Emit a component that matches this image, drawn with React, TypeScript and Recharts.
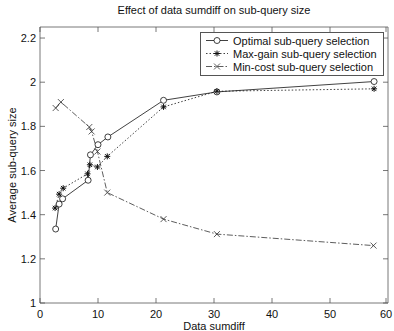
import React from 'react';
import { LineChart, Line, XAxis, YAxis, Legend, Label } from 'recharts';

const optimalX = [2.7, 3.3, 3.9, 8.3, 8.7, 10.0, 11.7, 21.3, 30.5, 57.6];
const optimalY = [1.335, 1.448, 1.472, 1.556, 1.671, 1.717, 1.752, 1.918, 1.956, 2.003];
const maxGainX = [2.6, 3.3, 4.0, 8.2, 8.6, 9.9, 11.6, 21.3, 30.5, 57.6];
const maxGainY = [1.43, 1.493, 1.52, 1.585, 1.626, 1.616, 1.664, 1.888, 1.959, 1.97];
const minCostX = [2.7, 3.6, 8.5, 8.9, 9.9, 11.6, 21.3, 30.5, 57.5];
const minCostY = [1.883, 1.91, 1.797, 1.777, 1.686, 1.5, 1.38, 1.312, 1.26];

const seriesNames = ['Optimal sub-query selection', 'Max-gain sub-query selection', 'Min-cost sub-query selection'];
const xTicks = [0, 10, 20, 30, 40, 50, 60];
const yTicks = [1, 1.2, 1.4, 1.6, 1.8, 2, 2.2];
const title = 'Effect of data sumdiff on sub-query size';
const xTitle = 'Data sumdiff';
const yTitle = 'Average sub-query size';

const zip = (xs: number[], ys: number[]) => xs.map((x, i) => ({ x, y: ys[i] }));
const optimalData = zip(optimalX, optimalY);
const maxGainData = zip(maxGainX, maxGainY);
const minCostData = zip(minCostX, minCostY);

const FONT = '"Liberation Sans", Arial, sans-serif';
const AX = '#555';
const INK = '#111';

type MarkerKind = 'circle' | 'star' | 'cross';

const Marker = ({ cx, cy, kind }: { cx: number; cy: number; kind: MarkerKind }) => {
  const s = 3;
  if (kind === 'circle') {
    return <circle cx={cx} cy={cy} r={3} fill="white" stroke={INK} strokeWidth={0.8} />;
  }
  if (kind === 'star') {
    return (
      <g stroke={INK} strokeWidth={1}>
        <line x1={cx - s} y1={cy} x2={cx + s} y2={cy} />
        <line x1={cx} y1={cy - s} x2={cx} y2={cy + s} />
        <line x1={cx - s * 0.75} y1={cy - s * 0.75} x2={cx + s * 0.75} y2={cy + s * 0.75} />
        <line x1={cx - s * 0.75} y1={cy + s * 0.75} x2={cx + s * 0.75} y2={cy - s * 0.75} />
      </g>
    );
  }
  return (
    <g stroke="#333" strokeWidth={0.8}>
      <line x1={cx - s} y1={cy - s} x2={cx + s} y2={cy + s} />
      <line x1={cx - s} y1={cy + s} x2={cx + s} y2={cy - s} />
    </g>
  );
};

const makeDot = (kind: MarkerKind) => (props: any) => (
  <Marker key={`${kind}-${props.index}`} cx={props.cx} cy={props.cy} kind={kind} />
);

const seriesStyle: Record<string, { kind: MarkerKind; dash?: string; color: string; width: number }> = {
  [seriesNames[0]]: { kind: 'circle', color: INK, width: 0.8 },
  [seriesNames[1]]: { kind: 'star', dash: '1.5 2', color: INK, width: 0.8 },
  [seriesNames[2]]: { kind: 'cross', dash: '6 2 1.5 2', color: '#333', width: 0.8 },
};

const LeftTick = (props: any) => {
  const { x, y, payload } = props;
  return (
    <g>
      <line x1={x} y1={y} x2={x + 5} y2={y} stroke={AX} strokeWidth={0.8} />
      <text x={x - 4} y={y} dy={4} textAnchor="end" fontSize={11} fontFamily={FONT} fill={INK}>
        {String(payload.value)}
      </text>
    </g>
  );
};
const RightTick = (props: any) => {
  const { x, y } = props;
  return <line x1={x} y1={y} x2={x - 5} y2={y} stroke={AX} strokeWidth={0.8} />;
};
const BottomTick = (props: any) => {
  const { x, y, payload } = props;
  return (
    <g>
      <line x1={x} y1={y} x2={x} y2={y - 5} stroke={AX} strokeWidth={0.8} />
      <text x={x} y={y} dy={15} textAnchor="middle" fontSize={11} fontFamily={FONT} fill={INK}>
        {String(payload.value)}
      </text>
    </g>
  );
};
const TopTick = (props: any) => {
  const { x, y } = props;
  return <line x1={x} y1={y} x2={x} y2={y + 5} stroke={AX} strokeWidth={0.8} />;
};

const LegendBox = (props: any) => {
  const payload = [...(props.payload || [])].sort(
    (a: any, b: any) => seriesNames.indexOf(a.value) - seriesNames.indexOf(b.value)
  );
  return (
    <div
      style={{
        border: `1px solid ${AX}`,
        background: 'white',
        width: 184,
        padding: '1px 0 2px 0',
        fontFamily: FONT,
        fontSize: 11,
        color: INK,
        boxSizing: 'border-box',
      }}
    >
      {payload.map((entry: any) => {
        const st = seriesStyle[entry.value];
        return (
          <div key={entry.value} style={{ display: 'flex', alignItems: 'center', height: 13 }}>
            <svg width={32} height={13} style={{ flex: 'none' }}>
              <line x1={5} y1={6.5} x2={27} y2={6.5} stroke={st.color} strokeWidth={st.width} strokeDasharray={st.dash} />
              <Marker cx={16} cy={6.5} kind={st.kind} />
            </svg>
            <span style={{ whiteSpace: 'nowrap' }}>{entry.value}</span>
          </div>
        );
      })}
    </div>
  );
};

export default function App() {
  return (
    <div style={{ position: 'absolute', left: 0, top: 0, width: 394, height: 331, background: 'white' }}>
      <LineChart width={394} height={331} margin={{ top: 0, right: 0, bottom: 0, left: 0 }}>
        <XAxis
          xAxisId="b"
          type="number"
          dataKey="x"
          domain={[0, 60]}
          ticks={xTicks}
          height={28}
          tickSize={0}
          tickMargin={0}
          tickLine={false}
          tick={<BottomTick />}
          axisLine={{ stroke: AX, strokeWidth: 0.8 }}
          allowDataOverflow
        >
          <Label value={xTitle} position="insideBottom" offset={1} fontSize={11} fontFamily={FONT} fill={INK} />
        </XAxis>
        <XAxis
          xAxisId="t"
          orientation="top"
          type="number"
          dataKey="x"
          domain={[0, 60]}
          ticks={xTicks}
          height={27}
          tickSize={0}
          tickMargin={0}
          tickLine={false}
          tick={<TopTick />}
          axisLine={{ stroke: AX, strokeWidth: 0.8 }}
          allowDataOverflow
        >
          <Label value={title} position="insideTop" offset={6} fontSize={11} fontFamily={FONT} fill={INK} />
        </XAxis>
        <YAxis
          yAxisId="l"
          type="number"
          dataKey="y"
          domain={[1, 2.25]}
          ticks={yTicks}
          width={40}
          tickSize={0}
          tickMargin={0}
          tickLine={false}
          tick={<LeftTick />}
          axisLine={{ stroke: AX, strokeWidth: 0.8 }}
          allowDataOverflow
        >
          <Label
            value={yTitle}
            angle={-90}
            position="insideLeft"
            offset={12}
            fontSize={11}
            fontFamily={FONT}
            fill={INK}
            style={{ textAnchor: 'middle' }}
          />
        </YAxis>
        <YAxis
          yAxisId="r"
          orientation="right"
          type="number"
          dataKey="y"
          domain={[1, 2.25]}
          ticks={yTicks}
          width={6}
          tickSize={0}
          tickMargin={0}
          tickLine={false}
          tick={<RightTick />}
          axisLine={{ stroke: AX, strokeWidth: 0.8 }}
          allowDataOverflow
        />
        <Legend
          layout="vertical"
          align="center"
          verticalAlign="middle"
          content={<LegendBox />}
          wrapperStyle={{ position: 'absolute', left: 200, top: 32, width: 184 }}
        />
        <Line
          xAxisId="b"
          yAxisId="l"
          data={optimalData}
          dataKey="y"
          name={seriesNames[0]}
          stroke={INK}
          strokeWidth={0.8}
          dot={makeDot('circle')}
          activeDot={false}
          isAnimationActive={false}
        />
        <Line
          xAxisId="b"
          yAxisId="l"
          data={maxGainData}
          dataKey="y"
          name={seriesNames[1]}
          stroke={INK}
          strokeWidth={0.8}
          strokeDasharray="1.5 2"
          dot={makeDot('star')}
          activeDot={false}
          isAnimationActive={false}
        />
        <Line
          xAxisId="b"
          yAxisId="l"
          data={minCostData}
          dataKey="y"
          name={seriesNames[2]}
          stroke="#333"
          strokeWidth={0.8}
          strokeDasharray="6 2 1.5 2"
          dot={makeDot('cross')}
          activeDot={false}
          isAnimationActive={false}
        />
      </LineChart>
    </div>
  );
}
